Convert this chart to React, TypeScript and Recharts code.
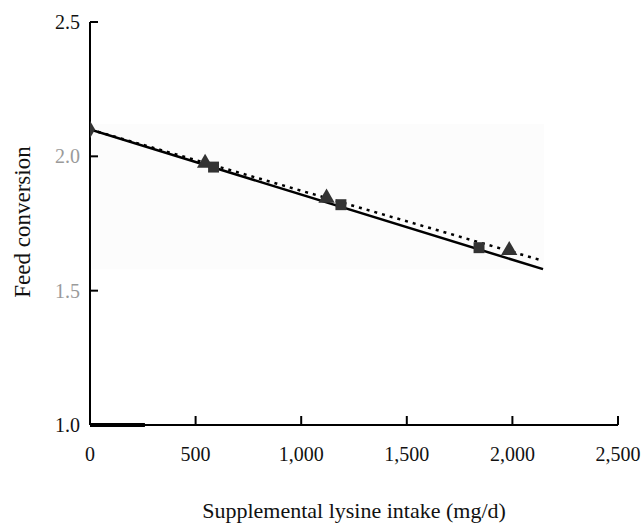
import React from 'react';
import {
  ComposedChart, Line, Scatter, XAxis, YAxis, ZAxis, ReferenceLine, ReferenceArea,
} from 'recharts';

const xTicks = [0, 500, 1000, 1500, 2000, 2500];
const yTicks = [1.0, 1.5, 2.0, 2.5];

const diamondPts = [{ x: 0, y: 2.1 }];
const trianglePts = [
  { x: 545, y: 1.975 },
  { x: 1120, y: 1.845 },
  { x: 1985, y: 1.65 },
];
const squarePts = [
  { x: 585, y: 1.96 },
  { x: 1188, y: 1.82 },
  { x: 1842, y: 1.66 },
];
const solidFit = [
  { x: 0, y: 2.1 },
  { x: 2145, y: 1.58 },
];
const dottedFit = [
  { x: 0, y: 2.1 },
  { x: 2128, y: 1.615 },
];

const FONT = '"Liberation Serif", "Times New Roman", serif';
const fmtX = (v: number) => (v >= 1000 ? `${Math.floor(v / 1000)},${String(v % 1000).padStart(3, '0')}` : String(v));

const XTick = (props: any) => {
  const { x, y, payload } = props;
  return (
    <g>
      <line x1={x} x2={x} y1={y} y2={y - 9} stroke="#000" strokeWidth={2} />
      <text x={x} y={y + 36} textAnchor="middle" fontFamily={FONT} fontSize={20} fill="#111">
        {fmtX(payload.value)}
      </text>
    </g>
  );
};

const YTick = (props: any) => {
  const { x, y, payload } = props;
  const faded = payload.value === 1.5 || payload.value === 2.0;
  return (
    <g>
      <line x1={x} x2={x + 8} y1={y} y2={y} stroke="#000" strokeWidth={2} />
      <text x={x - 10} y={y + 7} textAnchor="end" fontFamily={FONT} fontSize={20} fill={faded ? '#9a9a9a' : '#111'}>
        {payload.value.toFixed(1)}
      </text>
    </g>
  );
};

export default function App() {
  return (
    <div style={{ position: 'absolute', left: 0, top: 0, background: '#fff' }}>
      <ComposedChart width={644} height={529} margin={{ top: 22, right: 26, left: 0, bottom: 0 }}>
        <XAxis
          type="number"
          dataKey="x"
          domain={[0, 2500]}
          ticks={xTicks}
          interval={0}
          allowDataOverflow
          tickSize={0}
          tickMargin={0}
          tickLine={false}
          axisLine={{ stroke: '#000', strokeWidth: 2 }}
          tick={<XTick />}
          height={104}
          label={{
            content: (p: any) => {
              const vb = p.viewBox || {};
              return (
                <text x={vb.x + vb.width / 2} y={518} textAnchor="middle" fontFamily={FONT} fontSize={22} fill="#111">
                  Supplemental lysine intake (mg/d)
                </text>
              );
            },
          }}
        />
        <YAxis
          type="number"
          dataKey="y"
          domain={[1.0, 2.5]}
          ticks={yTicks}
          interval={0}
          allowDataOverflow
          tickSize={0}
          tickMargin={0}
          tickLine={false}
          axisLine={{ stroke: '#000', strokeWidth: 2 }}
          tick={<YTick />}
          width={90}
          label={{
            content: () => (
              <text x={30} y={222} transform="rotate(-90 30 222)" textAnchor="middle" fontFamily={FONT} fontSize={23} fill="#111">
                Feed conversion
              </text>
            ),
          }}
        />
        <ZAxis zAxisId="d" type="number" range={[90, 90]} />
        <ZAxis zAxisId="t" type="number" range={[115, 115]} />
        <ZAxis zAxisId="s" type="number" range={[120, 120]} />
        <ReferenceArea x1={10} x2={2150} y1={1.58} y2={2.12} fill="#fcfcfc" fillOpacity={1} stroke="none" ifOverflow="visible" />
        <ReferenceLine segment={[{ x: 0, y: 1.0 }, { x: 260, y: 1.0 }]} stroke="#000" strokeWidth={4} ifOverflow="visible" />
        <Line data={solidFit} dataKey="y" stroke="#000" strokeWidth={2.5} dot={false} isAnimationActive={false} />
        <Line data={dottedFit} dataKey="y" stroke="#000" strokeWidth={2.5} strokeDasharray="3 5" dot={false} isAnimationActive={false} />
        <Scatter data={diamondPts} dataKey="y" zAxisId="d" shape="diamond" fill="#333" isAnimationActive={false} />
        <Scatter data={trianglePts} dataKey="y" zAxisId="t" shape="triangle" fill="#333" isAnimationActive={false} />
        <Scatter data={squarePts} dataKey="y" zAxisId="s" shape="square" fill="#333" isAnimationActive={false} />
      </ComposedChart>
    </div>
  );
}
